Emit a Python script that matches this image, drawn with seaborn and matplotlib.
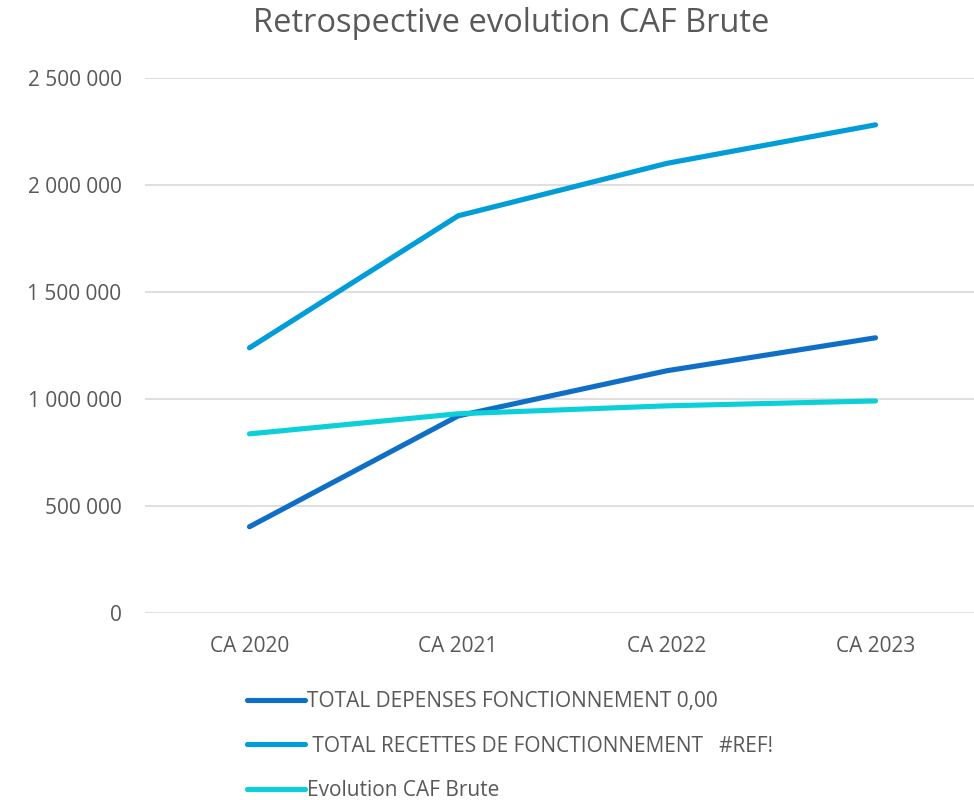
import pandas as pd
import matplotlib
matplotlib.use("Agg")
import matplotlib.pyplot as plt
import seaborn as sns
from matplotlib.ticker import FuncFormatter

# chart data
years = ["CA 2020", "CA 2021", "CA 2022", "CA 2023"]
depenses = [402000, 920000, 1131000, 1285000]
recettes = [1238000, 1855000, 2100000, 2280000]
caf_brute = [836000, 930000, 967000, 990000]

labels = [
    "TOTAL DEPENSES FONCTIONNEMENT 0,00",
    " TOTAL RECETTES DE FONCTIONNEMENT   #REF!",
    "Evolution CAF Brute",
]
colors = ["#0F6FC6", "#009DD9", "#0BD0D9"]

rows = []
for name, values in zip(labels, [depenses, recettes, caf_brute]):
    for year, v in zip(years, values):
        rows.append({"annee": year, "valeur": v, "serie": name})
df = pd.DataFrame(rows)

sns.set_style("white")
plt.rcParams["font.family"] = ["Open Sans", "DejaVu Sans"]
text_color = "#595959"

fig = plt.figure(figsize=(9.74, 8), dpi=100)
ax = fig.add_axes([0.149, 0.234, 0.857, 0.6688])

sns.lineplot(data=df, x="annee", y="valeur", hue="serie", palette=colors,
             linewidth=3.7, sort=False, ax=ax, legend=False)
for line in ax.lines:
    line.set_solid_capstyle("round")
    line.set_solid_joinstyle("round")

ax.set_xlim(-0.5, 3.5)
ax.set_ylim(0, 2500000)
ax.set_yticks([0, 500000, 1000000, 1500000, 2000000, 2500000])
ax.yaxis.set_major_formatter(FuncFormatter(lambda v, p: f"{int(v):,}".replace(",", " ")))
ax.grid(axis="y", color="#D9D9D9", linewidth=1.2)
ax.set_axisbelow(True)
for s in ax.spines.values():
    s.set_visible(False)
ax.tick_params(axis="both", length=0, labelsize=15, labelcolor=text_color)
ax.tick_params(axis="y", pad=17)
ax.tick_params(axis="x", pad=17)
ax.set_xlabel("")
ax.set_ylabel("")

fig.text(0.525, 0.971, "Retrospective evolution CAF Brute", ha="center", va="center",
         fontsize=23.5, color=text_color)

handles = [plt.Line2D([], [], color=c, linewidth=3.7, solid_capstyle="round") for c in colors]
fig.legend(handles, labels, loc="upper left", bbox_to_anchor=(0.254, 0.136),
           frameon=False, fontsize=15, labelcolor=text_color, handlelength=2.75,
           handletextpad=0.1, labelspacing=1.12, borderaxespad=0, borderpad=0)

fig.savefig("out.png", dpi=100)
